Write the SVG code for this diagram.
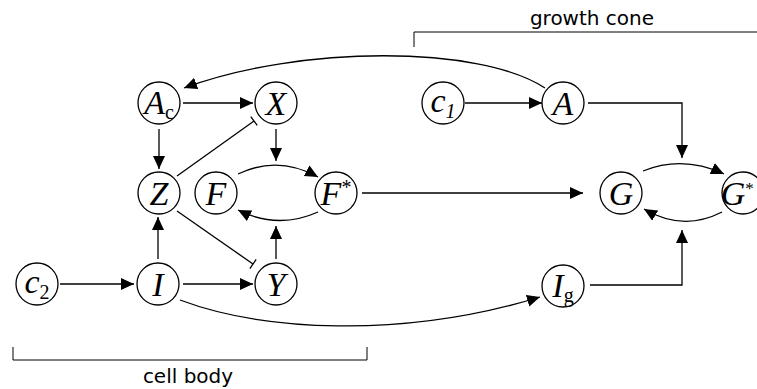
<svg xmlns="http://www.w3.org/2000/svg" width="757" height="389" viewBox="0 0 757 389">
  <style>
    .node circle { fill: #fff; stroke: #000; stroke-width: 1.3; }
    .node text { font-family: "Liberation Serif", "Times New Roman", serif; font-style: italic; font-size: 34px; text-anchor: middle; fill: #000; }
    .sub { font-size: 20px; }
    .up { font-style: normal; }
    .edge { fill: none; stroke: #000; stroke-width: 1.3; }
    .act { marker-end: url(#arrow); }
    .inh { marker-end: url(#bar); }
    .region { fill: none; stroke: #000; stroke-width: 1; }
    .region-label { font-family: "DejaVu Sans", sans-serif; font-size: 20px; text-anchor: middle; fill: #000; }
  </style>
  <defs>
    <marker id="arrow" markerUnits="userSpaceOnUse" markerWidth="14" markerHeight="13" refX="13" refY="6" orient="auto">
      <path d="M0,0 L13,6 L0,12 z" fill="#000"/>
    </marker>
    <marker id="bar" markerUnits="userSpaceOnUse" markerWidth="4" markerHeight="12" refX="1" refY="6" orient="auto">
      <line x1="1" y1="0.5" x2="1" y2="11.5" stroke="#000" stroke-width="1.3"/>
    </marker>
  </defs>

  <!-- compartment brackets -->
  <g id="growth-cone">
    <path class="region" d="M414,47 V32 H757"/>
    <text class="region-label" x="592" y="25">growth cone</text>
  </g>
  <g id="cell-body">
    <path class="region" d="M13,347 V360 H367 V347"/>
    <text class="region-label" x="188" y="383">cell body</text>
  </g>

  <!-- connectors -->
  <g id="connectors">
    <path class="edge act" d="M545,88 C480,45 300,45 184,88"/>
    <path class="edge act" d="M465,103 L542,103"/>
    <path class="edge act" d="M588,103 H682 V158"/>
    <path class="edge act" d="M183,103 L253,103"/>
    <path class="edge act" d="M159,129 V169"/>
    <path class="edge act" d="M276,129 V161"/>
    <path class="edge inh" d="M177,176 L254,121"/>
    <path class="edge inh" d="M177,211 L253,264"/>
    <path class="edge act" d="M238,174 Q278,155 318,177"/>
    <path class="edge act" d="M318,212 Q278,230 238,210"/>
    <path class="edge act" d="M362,193 L583,193"/>
    <path class="edge act" d="M643,171 Q683,155 724,174"/>
    <path class="edge act" d="M722,212 Q683,232 644,209"/>
    <path class="edge act" d="M590,285 H682 V230"/>
    <path class="edge act" d="M60,284 L134,284"/>
    <path class="edge act" d="M158,259 V217"/>
    <path class="edge act" d="M183,284 L253,284"/>
    <path class="edge act" d="M276,259 V226"/>
    <path class="edge act" d="M180,300 C260,330 400,340 540,297"/>
  </g>

  <!-- species -->
  <g id="Ac" class="node"><circle cx="159" cy="103" r="21"/><text x="159" y="114">A<tspan class="sub up" dy="5">c</tspan></text></g>
  <g id="X" class="node"><circle cx="276" cy="103" r="21"/><text x="276" y="115">X</text></g>
  <g id="c1" class="node"><circle cx="443" cy="103" r="21"/><text x="443" y="112">c<tspan class="sub" dy="6">1</tspan></text></g>
  <g id="A" class="node"><circle cx="563" cy="103" r="21"/><text x="563" y="115">A</text></g>
  <g id="Z" class="node"><circle cx="159" cy="193" r="21"/><text x="159" y="205">Z</text></g>
  <g id="F" class="node"><circle cx="216" cy="193" r="21"/><text x="216" y="205">F</text></g>
  <g id="Fstar" class="node"><circle cx="336" cy="193" r="21"/><text x="336" y="205">F<tspan class="sub up" dy="-11">*</tspan></text></g>
  <g id="G" class="node"><circle cx="621" cy="193" r="21"/><text x="621" y="205">G</text></g>
  <g id="Gstar" class="node"><circle cx="743" cy="193" r="21"/><text x="733" y="205">G<tspan class="up" font-size="17" x="749.5" dy="-11">*</tspan></text></g>
  <g id="c2" class="node"><circle cx="37" cy="284" r="21"/><text x="37" y="293">c<tspan class="sub up" dy="6">2</tspan></text></g>
  <g id="I" class="node"><circle cx="158" cy="284" r="21"/><text x="158" y="296">I</text></g>
  <g id="Y" class="node"><circle cx="276" cy="284" r="21"/><text x="276" y="296">Y</text></g>
  <g id="Ig" class="node"><circle cx="563" cy="286" r="21"/><text x="563" y="297">I<tspan class="sub up" dy="5">g</tspan></text></g>
</svg>
